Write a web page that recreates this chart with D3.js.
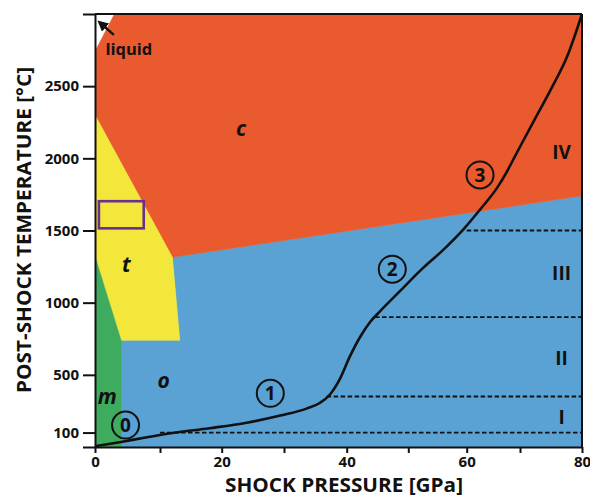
<!DOCTYPE html>
<html>
<head>
<meta charset="utf-8">
<script src="https://cdn.jsdelivr.net/npm/d3@7"></script>
<style>
  body { margin: 0; background: #fff; }
  text { font-family: "Open Sans", sans-serif; font-weight: 700; }
</style>
</head>
<body>
<svg id="chart" width="590" height="498"></svg>
<script>
// phase fields, vertices as [pressure GPa, temperature °C]
const fieldC = [[3, 3000], [80, 3000], [80, 1740], [12, 1315], [0, 2300], [0, 2740]];
const fieldT = [[0, 2300], [12, 1315], [13.2, 740], [4, 740], [0, 1320]];
const fieldM = [[0, 1320], [4, 740], [4, 0], [0, 0]];
const fieldO = [[4, 0], [80, 0], [80, 1740], [12, 1315], [13.2, 740], [4, 740]];

// post-shock temperature curve
const shockCurve = [
    [0, 5], [4, 35], [8, 68], [12, 97], [18, 130], [24, 168], [29.4, 218],
    [33.6, 266], [35.7, 305], [37.3, 362], [38.9, 470], [40.5, 626], [42.2, 764],
    [43.8, 866], [45.4, 940], [48.6, 1078], [52, 1220], [56.3, 1378], [59.4, 1506],
    [62.5, 1645], [65.6, 1790], [67.5, 1905], [69, 2010], [70.5, 2120], [72.5, 2280],
    [75, 2480], [77.6, 2705], [80, 3000]
];

// stage boundaries (dashed): temperature and starting pressure
const stageTemps = [100, 350, 900, 1500];
const stageStart = [10, 36.8, 44.6, 60];
const stageLabels = ["I", "II", "III", "IV"];
const stageLabelT = [210, 615, 1205, 2045];

const fieldLabels = ["c", "t", "m", "o"];
const fieldLabelPos = [[23.1, 2200], [4.8, 1255], [1.9, 340], [10.6, 455]];

const circleLabels = ["0", "1", "2", "3"];
const circlePos = [[4.7, 152], [27.8, 372], [47.4, 1232], [62.5, 1885]];

const boxP = [0.6, 7.5];
const boxT = [1515, 1703];

const xTicks = [0, 10, 20, 30, 40, 50, 60, 70, 80];
const yTicks = [0, 100, 500, 1000, 1500, 2000, 2500, 3000];

const svg = d3.select("#chart");

// the printed axis is not quite uniform, so the scale is piecewise
const x = d3.scaleLinear().domain(xTicks)
    .range([95, 160, 221.7, 284, 346.7, 408.3, 466.7, 520, 582]);
const y = d3.scaleLinear().domain([0, 3000]).range([447, 14]);

svg.append("clipPath").attr("id", "plot")
    .append("rect").attr("x", 95).attr("y", 14).attr("width", 487).attr("height", 433);

const g = svg.append("g").attr("clip-path", "url(#plot)");

const poly = d3.line().x(d => x(d[0])).y(d => y(d[1]));
function field(pts, color) {
    g.append("path").attr("d", poly(pts) + "Z").attr("fill", color)
        .attr("stroke", color).attr("stroke-width", 0.6);
}
field(fieldO, "#5aa2d3");
field(fieldC, "#e95a2f");
field(fieldT, "#f2e73a");
field(fieldM, "#3fab5e");

// dashed stage lines
stageTemps.forEach((t, i) => {
    g.append("line")
        .attr("x1", x(stageStart[i])).attr("x2", x(80))
        .attr("y1", y(t)).attr("y2", y(t))
        .attr("stroke", "#111").attr("stroke-width", 1.8)
        .attr("stroke-dasharray", "4.5,2.5");
});

// the curve
g.append("path")
    .datum(shockCurve)
    .attr("d", d3.line().x(d => x(d[0])).y(d => y(d[1])).curve(d3.curveMonotoneX))
    .attr("fill", "none").attr("stroke", "#111").attr("stroke-width", 2.6);

// purple box
g.append("rect")
    .attr("x", x(boxP[0])).attr("y", y(boxT[1]))
    .attr("width", x(boxP[1]) - x(boxP[0])).attr("height", y(boxT[0]) - y(boxT[1]))
    .attr("fill", "none").attr("stroke", "#6b2d8f").attr("stroke-width", 2.6);

// labels
fieldLabels.forEach((s, i) => {
    svg.append("text").text(s)
        .attr("x", x(fieldLabelPos[i][0])).attr("y", y(fieldLabelPos[i][1]))
        .attr("text-anchor", "middle").attr("dy", "0.3em")
        .style("font-style", "italic").style("font-size", "21px").attr("fill", "#111");
});

circleLabels.forEach((s, i) => {
    const cx = x(circlePos[i][0]), cy = y(circlePos[i][1]);
    svg.append("circle").attr("cx", cx).attr("cy", cy).attr("r", 13.5)
        .attr("fill", "none").attr("stroke", "#111").attr("stroke-width", 2);
    svg.append("text").text(s).attr("x", cx).attr("y", cy).attr("dy", "0.36em")
        .attr("text-anchor", "middle").style("font-size", "19px").attr("fill", "#111");
});

stageLabels.forEach((s, i) => {
    svg.append("text").text(s)
        .attr("x", x(76.7)).attr("y", y(stageLabelT[i])).attr("dy", "0.36em")
        .attr("text-anchor", "middle").style("font-size", "19px").attr("fill", "#111");
});

// liquid note with arrow
svg.append("text").text("liquid")
    .attr("x", x(1.6)).attr("y", y(2715))
    .style("font-size", "16.5px").attr("fill", "#111");
svg.append("defs").append("marker")
    .attr("id", "head").attr("viewBox", "0 0 10 10").attr("refX", 5).attr("refY", 5)
    .attr("markerWidth", 4.5).attr("markerHeight", 4.5).attr("orient", "auto")
    .append("path").attr("d", "M0,0L10,5L0,10Z").attr("fill", "#111");
svg.append("line")
    .attr("x1", x(2.9)).attr("y1", y(2855)).attr("x2", x(1.0)).attr("y2", y(2930))
    .attr("stroke", "#111").attr("stroke-width", 2.4).attr("marker-end", "url(#head)");

// axes
const xAxis = d3.axisBottom(x).tickValues(xTicks).tickSize(6).tickSizeOuter(0).tickPadding(3)
    .tickFormat(d => d % 20 === 0 ? d : "");
const yAxis = d3.axisLeft(y).tickValues(yTicks).tickSize(12).tickSizeOuter(0).tickPadding(4)
    .tickFormat(d => (d === 0 || d === 3000) ? "" : d);

const gx = svg.append("g").attr("transform", "translate(0,447)").call(xAxis);
const gy = svg.append("g").attr("transform", "translate(95,0)").call(yAxis);
[gx, gy].forEach(a => {
    a.select(".domain").attr("stroke", "#111").attr("stroke-width", 2);
    a.selectAll(".tick line").attr("stroke", "#111").attr("stroke-width", 2);
    a.selectAll(".tick text").style("font-size", "15px").attr("fill", "#111")
        .style("font-family", "'Open Sans', sans-serif").style("font-weight", 700);
});

// frame top and right
svg.append("line").attr("x1", 95).attr("x2", 582).attr("y1", 14).attr("y2", 14)
    .attr("stroke", "#111").attr("stroke-width", 2);
svg.append("line").attr("x1", 582).attr("x2", 582).attr("y1", 14).attr("y2", 447)
    .attr("stroke", "#111").attr("stroke-width", 2);

// axis titles
svg.append("text").text("SHOCK PRESSURE [GPa]")
    .attr("x", 344).attr("y", 492).attr("text-anchor", "middle")
    .attr("textLength", 238).attr("lengthAdjust", "spacingAndGlyphs")
    .style("font-size", "19px").attr("fill", "#111");
svg.append("text").text("POST-SHOCK TEMPERATURE [°C]")
    .attr("transform", "translate(31,230) rotate(-90)").attr("text-anchor", "middle")
    .attr("textLength", 326).attr("lengthAdjust", "spacingAndGlyphs")
    .style("font-size", "20px").attr("fill", "#111");
</script>
</body>
</html>
